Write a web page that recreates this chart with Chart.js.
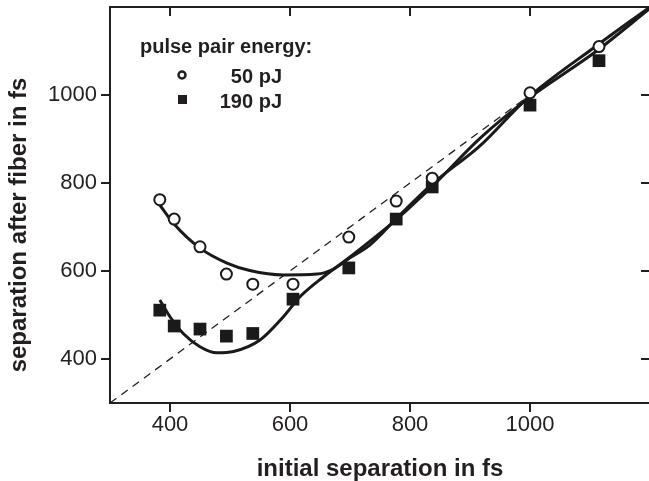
<!DOCTYPE html>
<html>
<head>
<meta charset="utf-8">
<script src="https://cdn.jsdelivr.net/npm/chart.js@4/dist/chart.umd.min.js"></script>
<style>
  html, body { margin: 0; padding: 0; background: #fff; overflow: hidden; }
  #wrap { width: 652px; height: 481px; }
</style>
</head>
<body>
<div id="wrap"><canvas id="sepChart" width="652" height="481"></canvas></div>
<script>
// measured points (same initial separations for both energies)
const initialSep = [383, 407, 450, 494, 538, 605, 698, 777, 837, 1000, 1115];
const sep50 = [762, 718, 655, 593, 570, 570, 677, 759, 811, 1005, 1110];
const sep190 = [511, 475, 468, 452, 458, 536, 607, 718, 791, 977, 1078];

// fitted curves
const fit50X = [383, 406, 450, 495, 533, 589, 645, 672, 700, 733, 778, 839, 917, 995, 1111, 1200];
const fit50Y = [750, 708, 652, 618, 601, 591, 593, 604, 630, 659, 720, 800, 885, 992, 1112, 1200];
const fit190X = [383, 400, 422, 450, 478, 506, 550, 589, 617, 656, 700, 778, 839, 917, 995, 1111, 1200];
const fit190Y = [534, 496, 458, 428, 414, 417, 443, 496, 542, 587, 632, 718, 795, 902, 990, 1100, 1197];

// y = x reference
const diagX = [300, 1200];
const diagY = [300, 1200];

const xTicks = [400, 600, 800, 1000];
const yTicks = [400, 600, 800, 1000];

const legendTitle = 'pulse pair energy:';
const seriesLabels = ['50 pJ', '190 pJ'];
const xTitle = 'initial separation in fs';
const yTitle = 'separation after fiber in fs';

const ink = '#231f20';
const family = "'Liberation Sans', Arial, Helvetica, sans-serif";

const toPts = (xs, ys) => xs.map((x, i) => ({ x: x, y: ys[i] }));
const setTicks = vals => scale => { scale.ticks = vals.map(v => ({ value: v })); };
const noPad = s => { s.paddingTop = 0; s.paddingBottom = 0; s.paddingLeft = 0; s.paddingRight = 0; };

// legend block and rotated y title
const annotations = {
  id: 'annotations',
  afterDraw(chart) {
    const ctx = chart.ctx;
    ctx.save();
    ctx.fillStyle = ink;
    ctx.textBaseline = 'alphabetic';
    ctx.font = 'bold 20px ' + family;
    ctx.textAlign = 'left';
    ctx.fillText(legendTitle, 140, 53);
    ctx.textAlign = 'right';
    ctx.fillText(seriesLabels[0], 282, 83);
    ctx.fillText(seriesLabels[1], 282, 108);

    ctx.lineWidth = 2.5;
    ctx.strokeStyle = ink;
    ctx.beginPath();
    ctx.arc(182, 75, 3.5, 0, Math.PI * 2);
    ctx.stroke();
    ctx.fillRect(178, 95, 9, 9);

    ctx.font = 'bold 24px ' + family;
    ctx.textAlign = 'center';
    ctx.textBaseline = 'middle';
    ctx.translate(19, 225);
    ctx.rotate(-Math.PI / 2);
    ctx.fillText(yTitle, 0, 0);
    ctx.restore();
  }
};

// top / right frame with inward ticks
const frameAxis = (pos, vals) => ({
  type: 'linear',
  position: pos,
  min: 300,
  max: 1200,
  afterBuildTicks: setTicks(vals),
  afterFit: s => { if (pos === 'top') s.height = 0; else s.width = 0; noPad(s); },
  ticks: { display: false },
  grid: { drawOnChartArea: false, tickLength: -9, lineWidth: 2, color: ink },
  border: { display: true, width: 2, color: ink }
});

new Chart(document.getElementById('sepChart'), {
  type: 'scatter',
  data: {
    datasets: [
      {
        label: seriesLabels[0],
        data: toPts(initialSep, sep50),
        pointStyle: 'circle',
        pointRadius: 5.5,
        borderWidth: 2,
        borderColor: '#1a1a1a',
        backgroundColor: '#ffffff'
      },
      {
        label: seriesLabels[1],
        data: toPts(initialSep, sep190),
        pointStyle: 'rect',
        pointRadius: 9,
        borderWidth: 0,
        backgroundColor: '#1a1a1a'
      },
      {
        label: 'fit 50',
        data: toPts(fit50X, fit50Y),
        showLine: true,
        pointRadius: 0,
        borderWidth: 3,
        borderColor: '#1a1a1a',
        cubicInterpolationMode: 'monotone'
      },
      {
        label: 'fit 190',
        data: toPts(fit190X, fit190Y),
        showLine: true,
        pointRadius: 0,
        borderWidth: 3,
        borderColor: '#1a1a1a',
        cubicInterpolationMode: 'monotone'
      },
      {
        label: 'y = x',
        data: toPts(diagX, diagY),
        showLine: true,
        pointRadius: 0,
        borderWidth: 1.3,
        borderColor: ink,
        borderDash: [8, 6]
      }
    ]
  },
  options: {
    responsive: false,
    animation: false,
    layout: { autoPadding: false, padding: { top: 7, right: 2, left: 0, bottom: 0 } },
    plugins: {
      legend: { display: false },
      tooltip: { enabled: false }
    },
    scales: {
      x: {
        type: 'linear',
        position: 'bottom',
        min: 300,
        max: 1200,
        afterBuildTicks: setTicks(xTicks),
        afterFit: s => { s.height = 78; noPad(s); },
        ticks: {
          font: { family: family, size: 22 }, color: ink, padding: 0, maxRotation: 0,
          callback: v => String(v)
        },
        grid: { drawOnChartArea: false, tickLength: 9, lineWidth: 2, color: ink },
        border: { display: true, width: 2, color: ink },
        title: {
          display: true,
          text: xTitle,
          color: ink,
          font: { family: family, size: 24, weight: 'bold', lineHeight: 1 },
          padding: { top: 0, bottom: 0 }
        }
      },
      y: {
        type: 'linear',
        position: 'left',
        min: 300,
        max: 1200,
        afterBuildTicks: setTicks(yTicks),
        afterFit: s => { s.width = 110; noPad(s); },
        ticks: {
          font: { family: family, size: 22 }, color: ink, padding: 4,
          callback: v => String(v)
        },
        grid: { drawOnChartArea: false, tickLength: 9, lineWidth: 2, color: ink },
        border: { display: true, width: 2, color: ink }
      },
      x2: frameAxis('top', xTicks),
      y2: frameAxis('right', yTicks)
    }
  },
  plugins: [annotations]
});
</script>
</body>
</html>
